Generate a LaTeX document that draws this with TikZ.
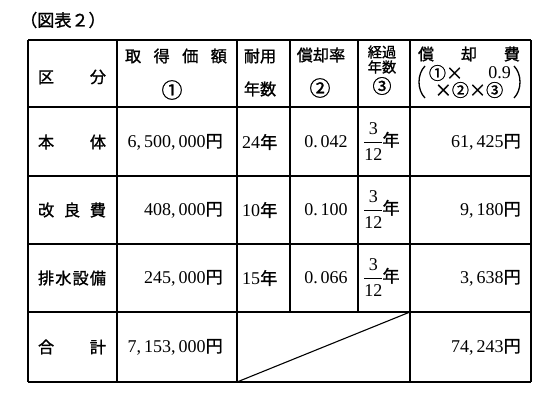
\documentclass[tikz,border=0pt]{standalone}
\usepackage{fontspec}
\setmainfont{Liberation Serif}
\newfontfamily\jp[Scale=0.95,FakeBold=1.2]{Noto Sans CJK JP}
\usepackage{tikz}
\usetikzlibrary{positioning}

\newcommand{\yenjp}{{\jp 円}}
\newcommand{\nenjp}{{\jp 年}}
\newcommand{\maru}[2][22]{{\fontsize{#1}{21}\selectfont\jp #2}}
\newcommand{\keikafrac}{{\renewcommand{\arraystretch}{1.2}%
  \begin{tabular}{@{}c@{}}3\\\hline 12\end{tabular}}\nenjp}
\setlength{\arrayrulewidth}{0.8pt}

\begin{document}
\begin{tikzpicture}
    [
    x=1pt, y=-1pt,
    every node/.style={inner sep=0pt, font=\fontsize{18}{21}\selectfont},
    jtext/.style={font=\fontsize{17}{21}\selectfont\jp},
    vrule/.style={line width=1.4pt},
    hrule/.style={line width=1.1pt},
    paren/.style={line width=1.3pt}
    ]
    \useasboundingbox (0,0) rectangle (554,407);

    \node (title) at (20,20) [anchor=west, jtext, font=\fontsize{18}{21}\selectfont\jp] {（図表２）};

    % frame of the table
    \foreach \y in {40,107,176,244,312,382}
      \draw [hrule] (28,\y) -- (531,\y);
    \foreach \x in {28,117,237,410,531}
      \draw [vrule] (\x,40) -- (\x,382);
    \foreach \x in {290,358}
      \draw [vrule] (\x,40) -- (\x,312);
    \draw [hrule] (237,382) -- (410,312);

    % header
    \node (kubun) at (72,77) [jtext] {\makebox[68pt]{区\hfill 分}};
    \node (kakaku) at (176,56) [jtext] {\makebox[102pt]{取\hfill 得\hfill 価\hfill 額}};
    \node (kakaku no) at (172,90) {\maru{①}};
    \node (taiyou) at (260,56) [jtext] {耐用};
    \node (taiyou b) at (260,89) [jtext] {年数};
    \node (ritsu) at (321,55) [jtext] {償却率};
    \node (ritsu no) at (320,88) {\maru{②}};
    \node (keika) at (382,52) [jtext, font=\fontsize{15}{16}\selectfont\jp] {経過};
    \node (keika b) at (382,67) [jtext, font=\fontsize{15}{16}\selectfont\jp] {年数};
    \node (keika no) at (382,86) {\maru[20]{③}};
    \node (shoukyaku) at (469,54) [jtext] {\makebox[102pt]{償\hfill 却\hfill 費}};
    \node (shiki a) at (446,73) {\maru[18]{①×}};
    \node (shiki b) at (511,73) [anchor=east] {0.9};
    \node (shiki c) at (469,90) {\maru[18]{×②×③}};
    \draw [paren] (425,66) .. controls (417,74) and (417,90) .. (425,98);
    \draw [paren] (514,66) .. controls (522,74) and (522,90) .. (514,98);

    % body rows
    \node (hontai) at (72,142) [jtext] {\makebox[68pt]{本\hfill 体}};
    \node (hontai a) at (223,142) [anchor=east] {6,\,500,\,000\yenjp};
    \node (hontai n) at (242,142) [anchor=west] {24\nenjp};
    \node (hontai r) at (326,142) {0.\,042};
    \node (hontai k) at (382,142) {\keikafrac};
    \node (hontai s) at (521,142) [anchor=east] {61,\,425\yenjp};

    \node (kairyou) at (72,210) [jtext] {\makebox[68pt]{改\hfill 良\hfill 費}};
    \node (kairyou a) at (223,210) [anchor=east] {408,\,000\yenjp};
    \node (kairyou n) at (242,210) [anchor=west] {10\nenjp};
    \node (kairyou r) at (326,210) {0.\,100};
    \node (kairyou k) at (382,210) {\keikafrac};
    \node (kairyou s) at (521,210) [anchor=east] {9,\,180\yenjp};

    \node (haisui) at (72,278) [jtext] {\makebox[68pt]{排\hfill 水\hfill 設\hfill 備}};
    \node (haisui a) at (223,278) [anchor=east] {245,\,000\yenjp};
    \node (haisui n) at (242,278) [anchor=west] {15\nenjp};
    \node (haisui r) at (326,278) {0.\,066};
    \node (haisui k) at (382,278) {\keikafrac};
    \node (haisui s) at (521,278) [anchor=east] {3,\,638\yenjp};

    % total
    \node (goukei) at (72,347) [jtext] {\makebox[68pt]{合\hfill 計}};
    \node (goukei a) at (223,347) [anchor=east] {7,\,153,\,000\yenjp};
    \node (goukei s) at (521,347) [anchor=east] {74,\,243\yenjp};
\end{tikzpicture}
\end{document}
